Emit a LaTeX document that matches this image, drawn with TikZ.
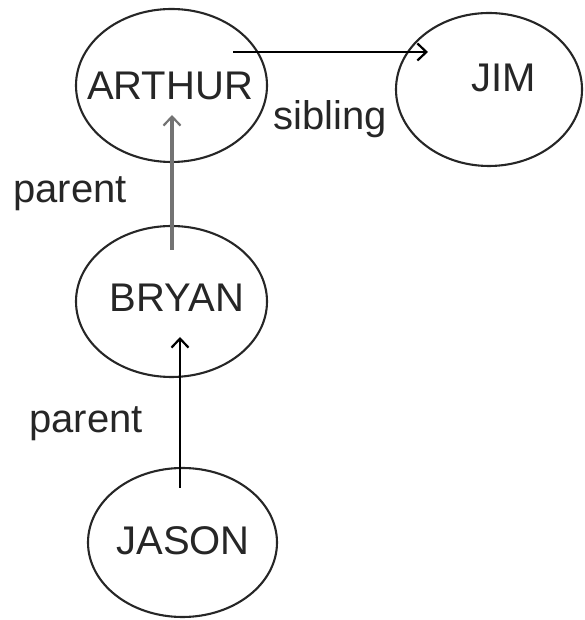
\documentclass[tikz,border=0pt]{standalone}
\usepackage{fontspec}
\setmainfont{Liberation Sans}
\usetikzlibrary{shapes.geometric,arrows.meta,calc}
\begin{document}
\begin{tikzpicture}[x=1pt,y=1pt,
  person/.style={ellipse,draw=black!85,line width=2.1pt,inner sep=0pt},
  lbl/.style={anchor=base,inner sep=0pt,text=black!85,font=\fontsize{40}{48}\selectfont},
  rel/.style={line width=2.8pt,-{Straight Barb[length=9pt,width=17pt,line width=2.2pt]}},
  parentgrey/.style={rel,line width=3.6pt,draw=black!55}]
\useasboundingbox (0,0) rectangle (584,620);

% family members
\node[person,minimum width=191pt,minimum height=153pt] (arthur) at (171.5,534.5) {};
\node[person,minimum width=186pt,minimum height=153pt] (jim)    at (489,530.5) {};
\node[person,minimum width=191pt,minimum height=151pt] (bryan)  at (171.5,318.5) {};
\node[person,minimum width=189pt,minimum height=149pt] (jason)  at (182.5,77.5) {};

\node[lbl] (arthurtxt) at (170,520)   {ARTHUR};
\node[lbl] (jimtxt)    at (503.5,528) {JIM};
\node[lbl] (bryantxt)  at (177,308)   {BRYAN};
\node[lbl] (jasontxt)  at (183,65)    {JASON};

% relations
\draw[rel] ($(arthur.center)+(61.5,33.5)$) -- ($(jim.center)+(-61,37.5)$);
\draw[parentgrey] ($(bryan.center)+(0.5,51.5)$) -- ($(arthur.center)+(0.5,-29.5)$);
\draw[rel] ($(jason.center)+(-2.5,54.5)$) -- ($(bryan.center)+(8.5,-35.5)$);

\node[lbl] (siblingtxt) at (330,490) {sibling};
\node[lbl] (parenttxta) at (70,417)  {parent};
\node[lbl] (parenttxtb) at (86,187)  {parent};
\end{tikzpicture}
\end{document}
